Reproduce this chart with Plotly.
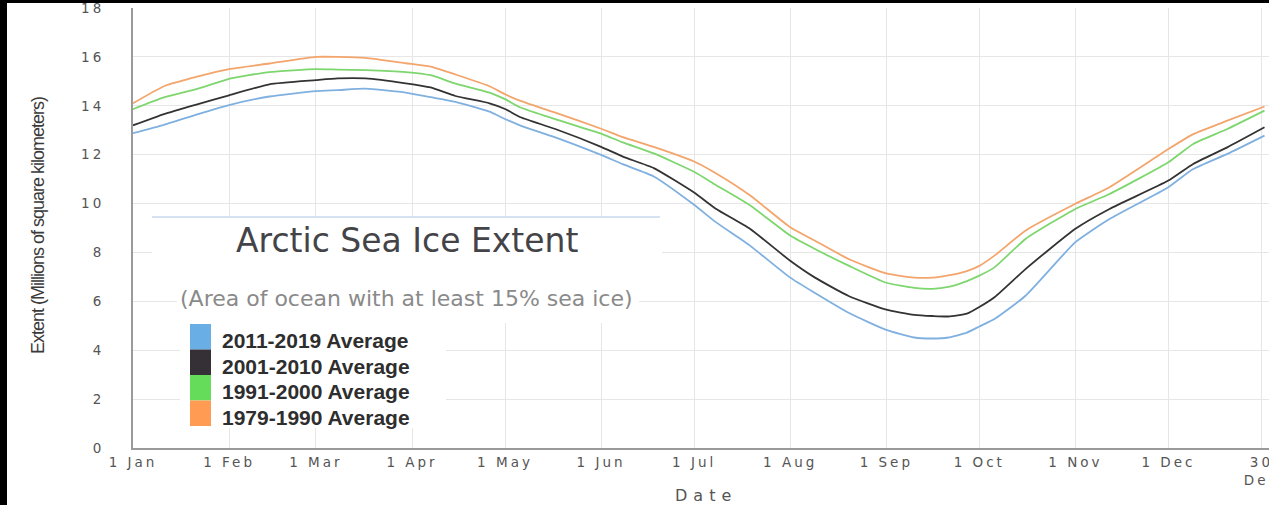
import plotly.graph_objects as go

# ---- data (day of year, 0 = 1 Jan) ----
days = [0, 10, 21, 31, 44, 59, 66, 75, 88, 96, 104, 115, 120, 125, 136, 151, 158, 168,
        181, 188, 199, 212, 220, 231, 243, 252, 258, 263, 269, 273, 278, 288, 304, 315,
        334, 342, 353, 365]

avg_2011_2019 = [12.88, 13.22, 13.66, 14.03, 14.38, 14.6, 14.64, 14.7, 14.54, 14.35,
                 14.16, 13.76, 13.46, 13.19, 12.72, 11.99, 11.61, 11.11, 9.95, 9.24,
                 8.28, 6.97, 6.34, 5.52, 4.83, 4.52, 4.48, 4.52, 4.72, 4.97,
                 5.29, 6.24, 8.42, 9.37, 10.67, 11.41, 12.03, 12.78]
avg_2001_2010 = [13.2, 13.66, 14.07, 14.43, 14.88, 15.05, 15.12, 15.12, 14.92, 14.75,
                 14.4, 14.1, 13.87, 13.53, 13.06, 12.32, 11.92, 11.45, 10.45, 9.79,
                 8.97, 7.66, 6.97, 6.21, 5.66, 5.45, 5.4, 5.38, 5.5, 5.77,
                 6.18, 7.33, 8.97, 9.78, 10.94, 11.62, 12.3, 13.12]
avg_1991_2000 = [13.86, 14.34, 14.7, 15.1, 15.38, 15.5, 15.48, 15.46, 15.38, 15.25,
                 14.91, 14.54, 14.27, 13.93, 13.46, 12.86, 12.5, 12.05, 11.3, 10.76,
                 9.93, 8.69, 8.14, 7.45, 6.76, 6.55, 6.51, 6.59, 6.83, 7.05,
                 7.4, 8.56, 9.78, 10.39, 11.69, 12.44, 13.05, 13.8]
avg_1979_1990 = [14.1, 14.8, 15.2, 15.5, 15.73, 16.0, 16.0, 15.96, 15.74, 15.6,
                 15.28, 14.8, 14.47, 14.2, 13.73, 13.06, 12.72, 12.32, 11.72, 11.24,
                 10.34, 9.03, 8.48, 7.72, 7.14, 6.97, 6.97, 7.06, 7.24, 7.45,
                 7.88, 8.9, 9.99, 10.67, 12.23, 12.84, 13.39, 13.97]

series_names = ["2011-2019 Average", "2001-2010 Average", "1991-2000 Average", "1979-1990 Average"]
series_values = [avg_2011_2019, avg_2001_2010, avg_1991_2000, avg_1979_1990]
line_colors = ["#7fb0e0", "#333333", "#7ed66e", "#f3a56c"]
swatch_colors = ["#6aaee6", "#353035", "#66dd5a", "#ff9b52"]

month_tick_days = [0, 31, 59, 90, 120, 151, 181, 212, 243, 273, 304, 334, 364]
month_tick_labels = ["1 Jan", "1 Feb", "1 Mar", "1 Apr", "1 May", "1 Jun", "1 Jul",
                     "1 Aug", "1 Sep", "1 Oct", "1 Nov", "1 Dec", "30<br>Dec"]
y_tick_values = [0, 2, 4, 6, 8, 10, 12, 14, 16, 18]

chart_title = "Arctic Sea Ice Extent"
chart_subtitle = "(Area of ocean with at least 15% sea ice)"
x_title = "Date"
y_title = "Extent (Millions of square kilometers)"

# ---- geometry helpers (pixel -> paper) ----
W, H = 1276, 505            # a few px wider than the window so no empty strip shows at right
L, R, T, B = 133, 0, 8, 57
PW, PH = W - L - R, H - T - B


def xp(px):
    return (px - L) / PW


def yp(py):
    return (H - B - py) / PH


fig = go.Figure()
for name, vals, col in zip(series_names, series_values, line_colors):
    fig.add_trace(go.Scatter(x=days, y=vals, mode="lines", name=name,
                             line=dict(color=col, width=1.8, shape="spline", smoothing=0.5),
                             showlegend=False, hoverinfo="skip"))

tick_font = dict(family="DejaVu Sans", size=13.5, color="#555555")

fig.update_layout(
    width=W, height=H, autosize=False,
    margin=dict(l=L, r=R, t=T, b=B, pad=0),
    paper_bgcolor="white", plot_bgcolor="white",
    xaxis=dict(range=[0, PW / 3.1], tickmode="array", tickvals=month_tick_days,
               ticktext=month_tick_labels, showgrid=True, gridcolor="#e6e6e6",
               gridwidth=1, showline=True, linecolor="#9a9a9a", linewidth=2,
               ticks="", tickfont=tick_font, ticklabelstandoff=1, zeroline=False,
               ticklabeloverflow="allow"),
    yaxis=dict(range=[0, 18], tickmode="array", tickvals=y_tick_values,
               showgrid=True, gridcolor="#e6e6e6", gridwidth=1, showline=True,
               linecolor="#9a9a9a", linewidth=2, ticks="", tickfont=tick_font,
               ticklabelstandoff=24, zeroline=False, ticklabeloverflow="allow"),
)

shapes = []
# black frame strips of the screenshot (left and top)
shapes.append(dict(type="rect", xref="paper", yref="paper", x0=xp(0), x1=xp(7),
                   y0=yp(H), y1=yp(0), fillcolor="black", line=dict(width=0), layer="above"))
shapes.append(dict(type="rect", xref="paper", yref="paper", x0=xp(0), x1=xp(W),
                   y0=yp(3), y1=yp(0), fillcolor="black", line=dict(width=0), layer="above"))
# title / subtitle / legend panels
for (x0, x1, y0, y1) in [(152, 662, 217, 276), (177, 639, 275, 323), (180, 446, 322, 428)]:
    shapes.append(dict(type="rect", xref="paper", yref="paper", x0=xp(x0), x1=xp(x1),
                       y0=yp(y1), y1=yp(y0), fillcolor="white", line=dict(width=0),
                       layer="above"))
shapes.append(dict(type="line", xref="paper", yref="paper", x0=xp(152), x1=xp(660),
                   y0=yp(217), y1=yp(217), line=dict(color="#c9d8ec", width=1.5),
                   layer="above"))

annotations = [
    dict(text=chart_title, xref="paper", yref="paper", x=xp(407), y=yp(240),
         xanchor="center", yanchor="middle", showarrow=False,
         font=dict(family="DejaVu Sans", size=33, color="#444448")),
    dict(text=chart_subtitle, xref="paper", yref="paper", x=xp(406), y=yp(298),
         xanchor="center", yanchor="middle", showarrow=False,
         font=dict(family="DejaVu Sans", size=22, color="#8a8a8a")),
    dict(text=x_title, xref="paper", yref="paper", x=xp(706), y=yp(495),
         xanchor="center", yanchor="middle", showarrow=False,
         font=dict(family="DejaVu Sans", size=16, color="#555555")),
    dict(text=y_title, xref="paper", yref="paper", x=xp(38), y=yp(226),
         xanchor="center", yanchor="middle", showarrow=False, textangle=-90,
         font=dict(family="Liberation Sans", size=18, color="#3a3a3a")),
]

# custom legend (square swatches)
sw_top = 324
row_h = 25.5
for i, (name, col) in enumerate(zip(series_names, swatch_colors)):
    y0 = sw_top + i * row_h
    shapes.append(dict(type="rect", xref="paper", yref="paper", x0=xp(190), x1=xp(211),
                       y0=yp(y0 + row_h), y1=yp(y0), fillcolor=col, line=dict(width=0),
                       layer="above"))
    annotations.append(dict(text=name, xref="paper", yref="paper", x=xp(220),
                            y=yp(y0 + 16.5), xanchor="left", yanchor="middle",
                            showarrow=False,
                            font=dict(family="Liberation Sans", size=21,
                                      color="#2e2e2e", weight="bold")))

fig.update_layout(shapes=shapes, annotations=annotations)

page_css = (".xtick text, .ytick text {letter-spacing: 3px;} "
            ".annotation[data-index='2'] text {letter-spacing: 6px;} "
            ".annotation[data-index='3'] text {letter-spacing: -1px;}")
post_js = ("document.body.style.margin='0';document.body.style.overflow='hidden';"
           "var st=document.createElement('style');st.innerHTML=\"" + page_css + "\";"
           "document.head.appendChild(st);")

fig.write_html("out.html", post_script=post_js, config={"displayModeBar": False})
